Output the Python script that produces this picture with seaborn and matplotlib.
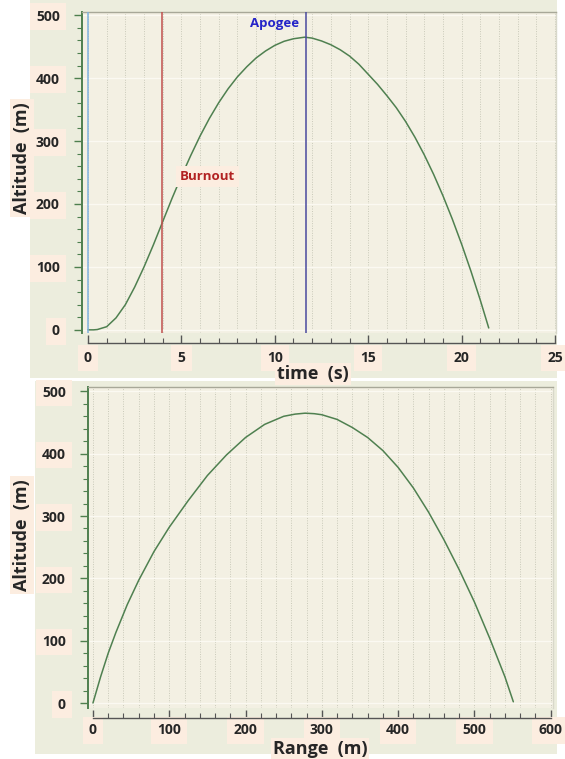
import numpy as np
import pandas as pd
import matplotlib
matplotlib.use("Agg")
import matplotlib.pyplot as plt
import seaborn as sns
from matplotlib.patches import Rectangle
from matplotlib.ticker import MultipleLocator

# ---------------- data ----------------
time_s = [0, 0.3, 0.5, 1.0, 1.5, 2.0, 2.5, 3.0, 3.5, 4.0, 4.5, 5.0, 5.5, 6.0, 6.5, 7.0,
          7.5, 8.0, 8.5, 9.0, 9.5, 10.0, 10.5, 11.0, 11.6, 12.0, 12.5, 13.0, 13.5,
          14.0, 14.5, 15.0, 15.5, 16.0, 16.5, 17.0, 17.5, 18.0, 18.5, 19.0, 19.5,
          20.0, 20.5, 21.0, 21.45]
alt_time = [0, 0, 0.5, 5, 19, 40, 68, 100, 135, 172, 209, 244, 277, 308, 336, 361,
            383, 402, 418, 432, 443, 452, 458.5, 462.5, 465, 463.5, 459, 453, 445,
            435, 422, 406, 390, 372, 353, 331, 306, 278, 247, 213, 176,
            136, 93, 47, 3]

range_m = [0, 10, 20, 30, 45, 60, 80, 100, 125, 150, 175, 200, 225, 250, 265, 278,
           290, 300, 320, 340, 360, 380, 400, 420, 440, 460, 480, 500, 520, 540, 551]
alt_range = [0, 42, 80, 113, 158, 197, 243, 282, 325, 365, 398, 426, 447, 460, 463.5, 465,
             464.2, 462.5, 455, 442, 426, 405, 378, 345, 306, 262, 214, 162, 104, 42, 2]

events = ["Launch", "Burnout", "Apogee"]
event_t = [0.0, 3.98, 11.65]
event_colors = ["#7FB2DE", "#C0504D", "#4A4A9E"]

time_ticks = [0, 5, 10, 15, 20, 25]
range_ticks = [0, 100, 200, 300, 400, 500, 600]
alt_ticks = [0, 100, 200, 300, 400, 500]

df_t = pd.DataFrame({"time": time_s, "alt": alt_time})
df_r = pd.DataFrame({"range": range_m, "alt": alt_range})

# ---------------- style ----------------
sns.set_style("white")
plt.rcParams["font.family"] = ["Open Sans", "DejaVu Sans"]

W, H = 565, 759
fig = plt.figure(figsize=(W / 100, H / 100), dpi=100)
fig.patch.set_facecolor("white")

OUTER = "#ECEDDD"
PLOT = "#F3F0E3"
PEACH = "#FCEDE0"
GREEN = "#4E7F4E"
CURVE = "#4F8050"


def frac_rect(x0, y0, x1, y1):
    return (x0 / W, 1 - y1 / H, (x1 - x0) / W, (y1 - y0) / H)


def add_bg(x0, y0, x1, y1, color):
    l, b, w, h = frac_rect(x0, y0, x1, y1)
    fig.add_artist(Rectangle((l, b), w, h, transform=fig.transFigure,
                             facecolor=color, edgecolor="none", zorder=-10))


# outer panel backgrounds
add_bg(30, 0, 557, 378, OUTER)
add_bg(35, 381, 557, 754, OUTER)


def style_axes(ax, xmajor, xminor, xbound, xpad):
    ax.set_facecolor(PLOT)
    ax.yaxis.set_major_locator(MultipleLocator(100))
    ax.yaxis.set_minor_locator(MultipleLocator(20))
    ax.xaxis.set_major_locator(MultipleLocator(xmajor))
    ax.xaxis.set_minor_locator(MultipleLocator(xminor))
    ax.grid(False)
    ax.grid(which="minor", axis="x", color="#C9C9B9", linestyle=(0, (1, 1.5)), linewidth=0.7)
    ax.grid(which="major", axis="x", color="#C9C9B9", linestyle=(0, (1, 1.5)), linewidth=0.7)
    ax.grid(which="major", axis="y", color="#FBF9F2", linewidth=1.0)
    for s in ["left", "right", "top", "bottom"]:
        ax.spines[s].set_visible(True)
    ax.spines["left"].set_color(GREEN)
    ax.spines["left"].set_linewidth(1.4)
    ax.spines["top"].set_color("#A8A898")
    ax.spines["top"].set_linewidth(1.0)
    ax.spines["right"].set_color("#D8D8CA")
    ax.spines["right"].set_linewidth(1.0)
    ax.spines["bottom"].set_position(("outward", 7))
    ax.spines["bottom"].set_bounds(*xbound)
    ax.spines["bottom"].set_color("#555555")
    ax.spines["bottom"].set_linewidth(1.0)
    ax.tick_params(axis="y", which="major", direction="out", length=6, width=1,
                   color=GREEN, left=True, pad=10, labelsize=10)
    ax.tick_params(axis="y", which="minor", direction="out", length=3.5, width=0.8,
                   color=GREEN, left=True)
    ax.tick_params(axis="x", which="major", direction="in", length=6, width=1,
                   color="#555555", bottom=True, pad=xpad, labelsize=10)
    ax.tick_params(axis="x", which="minor", direction="in", length=3.5, width=0.8,
                   color="#555555", bottom=True)
    for lbl in ax.get_xticklabels() + ax.get_yticklabels():
        lbl.set_fontweight("bold")
        lbl.set_bbox(dict(boxstyle="square,pad=0.45", fc=PEACH, ec="none"))
    ax.set_axisbelow(True)


def set_labels(ax, xl, yl, xpos, ypos):
    ax.set_xlabel(xl, fontsize=13, fontweight="bold",
                  bbox=dict(boxstyle="square,pad=0.1", fc=PEACH, ec="none"))
    ax.xaxis.label.set_verticalalignment("center")
    ax.xaxis.set_label_coords(*xpos)
    ax.set_ylabel(yl, fontsize=13, fontweight="bold",
                  bbox=dict(boxstyle="square,pad=0.15", fc=PEACH, ec="none"))
    ax.yaxis.label.set_verticalalignment("center")
    ax.yaxis.set_label_coords(*ypos)


# ---------------- top: altitude vs time ----------------
L1, T1, R1, B1 = 82, 12, 556, 333
ax1 = fig.add_axes(frac_rect(L1, T1, R1, B1))
sns.lineplot(data=df_t, x="time", y="alt", ax=ax1, color=CURVE, linewidth=1.1,
             sort=False, estimator=None)
for t, c in zip(event_t, event_colors):
    ax1.axvline(t, color=c, linewidth=1.1, zorder=3)
ax1.set_xlim(-0.32, 25.05)
ax1.set_ylim(-5, 505)
ax1.set_xticks(time_ticks)
ax1.set_yticks(alt_ticks)
style_axes(ax1, 5, 1, (0, 25), 6)
ax1.text(event_t[2] - 0.35, 486, "Apogee", color="#2424C8", fontsize=9.5,
         fontweight="bold", ha="right", va="center", zorder=4)
ax1.text(4.9, 244, "Burnout", color="#B22222", fontsize=9.5, fontweight="bold",
         ha="left", va="center", zorder=4,
         bbox=dict(boxstyle="square,pad=0.3", fc=PEACH, ec="none"))
set_labels(ax1, "time  (s)", "Altitude  (m)",
           ((313 - L1) / (R1 - L1), -(374 - B1) / (B1 - T1)),
           (-(L1 - 22) / (R1 - L1), (B1 - 158) / (B1 - T1)))

# ---------------- bottom: altitude vs range ----------------
L2, T2, R2, B2 = 88, 387, 553, 708
ax2 = fig.add_axes(frac_rect(L2, T2, R2, B2))
sns.lineplot(data=df_r, x="range", y="alt", ax=ax2, color=CURVE, linewidth=1.1,
             sort=False, estimator=None)
ax2.set_xlim(-6.5, 603)
ax2.set_ylim(-8, 507)
ax2.set_xticks(range_ticks)
ax2.set_yticks(alt_ticks)
style_axes(ax2, 100, 20, (0, 600), 4)
set_labels(ax2, "Range  (m)", "Altitude  (m)",
           ((320 - L2) / (R2 - L2), -(749 - B2) / (B2 - T2)),
           (-(L2 - 22) / (R2 - L2), (B2 - 535) / (B2 - T2)))

fig.savefig("out.png", dpi=100)
